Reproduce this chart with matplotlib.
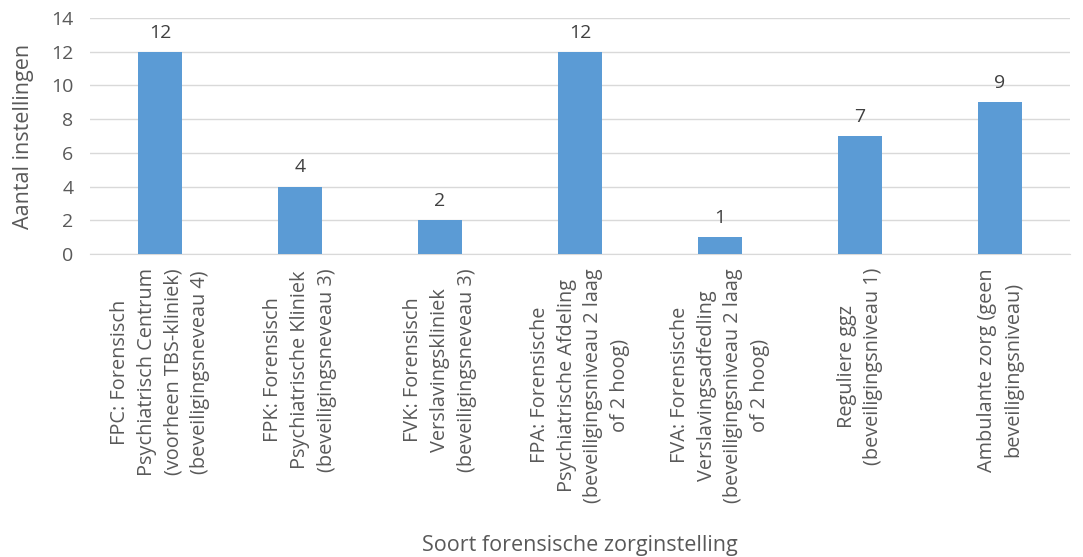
import matplotlib
matplotlib.use("Agg")
import matplotlib.pyplot as plt

plt.rcParams['font.family'] = ['Open Sans', 'DejaVu Sans']

categories = [
    "FPC: Forensisch\nPsychiatrisch Centrum\n(voorheen TBS-kliniek)\n(beveiligingsneveau 4)",
    "FPK: Forensisch\nPsychiatrische Kliniek\n(beveiligingsneveau 3)",
    "FVK: Forensisch\nVerslavingskliniek\n(beveiligingsneveau 3)",
    "FPA: Forensische\nPsychiatrische Afdeling\n(beveiligingsniveau 2 laag\nof 2 hoog)",
    "FVA: Forensische\nVerslavingsadfedling\n(beveiligingsniveau 2 laag\nof 2 hoog)",
    "Reguliere ggz\n(beveiligingsniveau 1)",
    "Ambulante zorg (geen\nbeveiligingsniveau)",
]
values = [12, 4, 2, 12, 1, 7, 9]
yticks = [0, 2, 4, 6, 8, 10, 12, 14]

text_color = "#595959"
fig = plt.figure(figsize=(10.83, 5.57), dpi=100)
ax = fig.add_axes([90/1083, 1 - 254/557, (1070-90)/1083, (254-18)/557])

x = list(range(len(values)))
ax.bar(x, values, width=0.31, color="#5b9bd5", zorder=3)
for xi, v in zip(x, values):
    ax.text(xi, v + 0.6, str(v), ha='center', va='bottom', fontsize=14, color="#404040")

ax.set_xlim(-0.5, len(values) - 0.5)
ax.set_ylim(0, 14)
ax.set_yticks(yticks)
ax.yaxis.grid(True, color="#d9d9d9", linewidth=1, zorder=0)
for s in ['top', 'right', 'left']:
    ax.spines[s].set_visible(False)
ax.spines['bottom'].set_color("#d9d9d9")
ax.tick_params(axis='both', length=0, colors=text_color, labelsize=14)
ax.tick_params(axis='y', pad=12)
ax.set_xticks(x)
ax.set_xticklabels(categories, rotation=90, ha='center', va='top',
                   multialignment='center', fontsize=14.3, linespacing=1.44)
ax.tick_params(axis='x', pad=10)

fig.text((90 + 1070) / 2 / 1083, 1 - 545/557, "Soort forensische zorginstelling",
         ha='center', va='center', fontsize=15.5, color=text_color)
fig.text(24/1083, 1 - 136/557, "Aantal instellingen", rotation=90, ha='center', va='center',
         fontsize=15.5, color=text_color)

fig.savefig("out.png", dpi=100)
